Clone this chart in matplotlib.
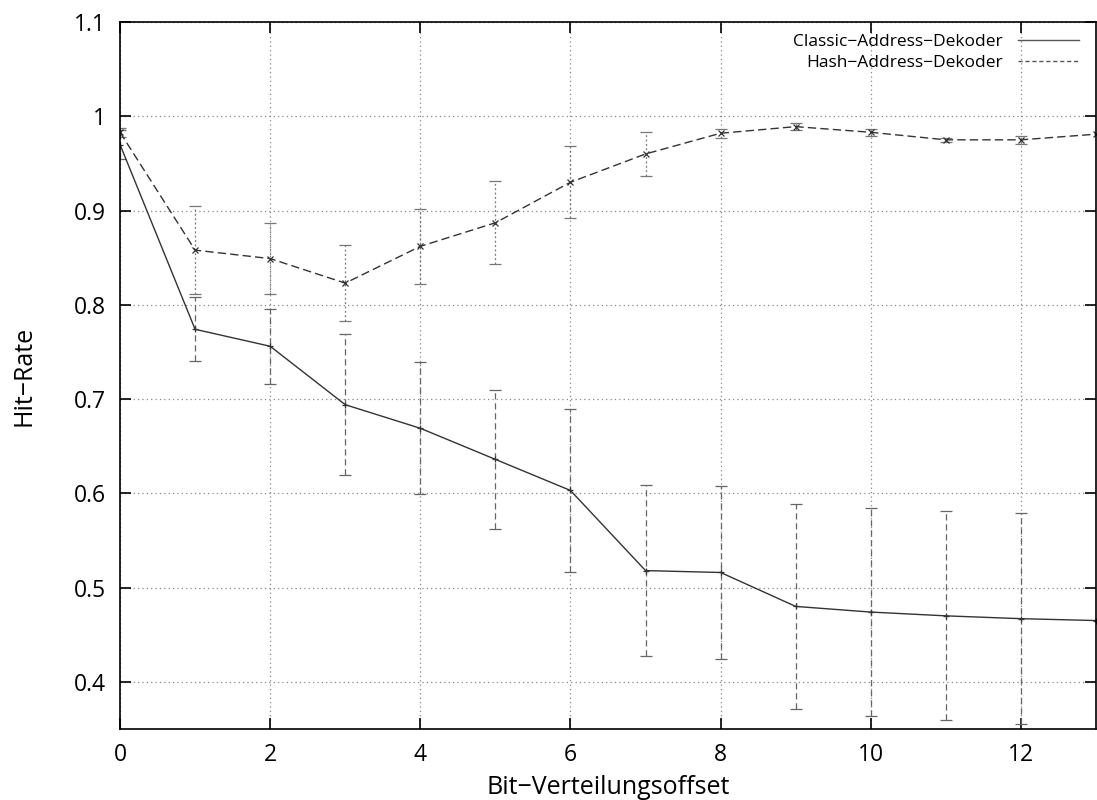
import matplotlib
matplotlib.use("Agg")
import matplotlib.pyplot as plt
from matplotlib.lines import Line2D
import numpy as np

plt.rcParams['font.family'] = ['Open Sans', 'DejaVu Sans']

offset = [0, 1, 2, 3, 4, 5, 6, 7, 8, 9, 10, 11, 12, 13]

classic_rate = [0.970, 0.774, 0.756, 0.694, 0.669, 0.636, 0.603, 0.518, 0.516,
                0.480, 0.474, 0.470, 0.467, 0.465]
classic_err = [0.015, 0.034, 0.040, 0.075, 0.070, 0.074, 0.086, 0.091, 0.092,
               0.109, 0.110, 0.111, 0.112]

hash_rate = [0.983, 0.858, 0.849, 0.823, 0.862, 0.887, 0.930, 0.960, 0.982,
             0.989, 0.983, 0.975, 0.975, 0.981]
hash_err = [0.005, 0.047, 0.038, 0.040, 0.040, 0.044, 0.038, 0.023, 0.005,
            0.004, 0.004, 0.002, 0.004]

fig = plt.figure(figsize=(10.97, 8.0), dpi=100)
ax = fig.add_axes([0.1094, 0.0888, 0.8897, 0.8837])

x = np.array(offset)
n_err = len(classic_err)

# Fehlerbalken (am rechten Rand abgeschnitten)
eb1 = ax.errorbar(x[:n_err], classic_rate[:n_err], yerr=classic_err, fmt='none',
                  ecolor='#666666', elinewidth=0.9, capsize=4, capthick=0.9)
eb1[2][0].set_linestyle((0, (5, 3)))
eb2 = ax.errorbar(x[:n_err], hash_rate[:n_err], yerr=hash_err, fmt='none',
                  ecolor='#777777', elinewidth=0.9, capsize=4, capthick=0.9)
eb2[2][0].set_linestyle((0, (1.5, 2)))

ax.plot(x, classic_rate, color='#333333', lw=1.0, marker='+', ms=5, mew=0.9)
ax.plot(x, hash_rate, color='#333333', lw=1.0, ls=(0, (6, 3)), marker='x', ms=5, mew=0.9)

ax.set_xlim(0, 13)
ax.set_ylim(0.35, 1.1)
ax.set_xticks([0, 2, 4, 6, 8, 10, 12])
ax.set_yticks([0.4, 0.5, 0.6, 0.7, 0.8, 0.9, 1.0, 1.1])
ax.set_yticklabels(['0.4', '0.5', '0.6', '0.7', '0.8', '0.9', '1', '1.1'])
ax.tick_params(direction='in', length=8, width=1.2, top=True, right=True,
               labelsize=16.5, pad=10)
ax.grid(True, color='#888888', ls=(0, (1, 2.5)), lw=0.9)

for s in ax.spines.values():
    s.set_linewidth(1.2)

ax.set_xlabel('Bit−Verteilungsoffset', fontsize=18, labelpad=6)
ax.set_ylabel('Hit−Rate', fontsize=18, labelpad=27)

handles = [Line2D([], [], color='#555555', lw=1.0),
           Line2D([], [], color='#555555', lw=1.0, ls=(0, (3, 2)))]
ax.legend(handles, ['Classic−Address−Dekoder', 'Hash−Address−Dekoder'],
          loc='upper right', frameon=False, markerfirst=False, fontsize=12.5,
          handlelength=3.5, handletextpad=0.9, labelspacing=0.25,
          borderaxespad=0.3, bbox_to_anchor=(0.995, 1.0))

fig.savefig('out.png', dpi=100)
